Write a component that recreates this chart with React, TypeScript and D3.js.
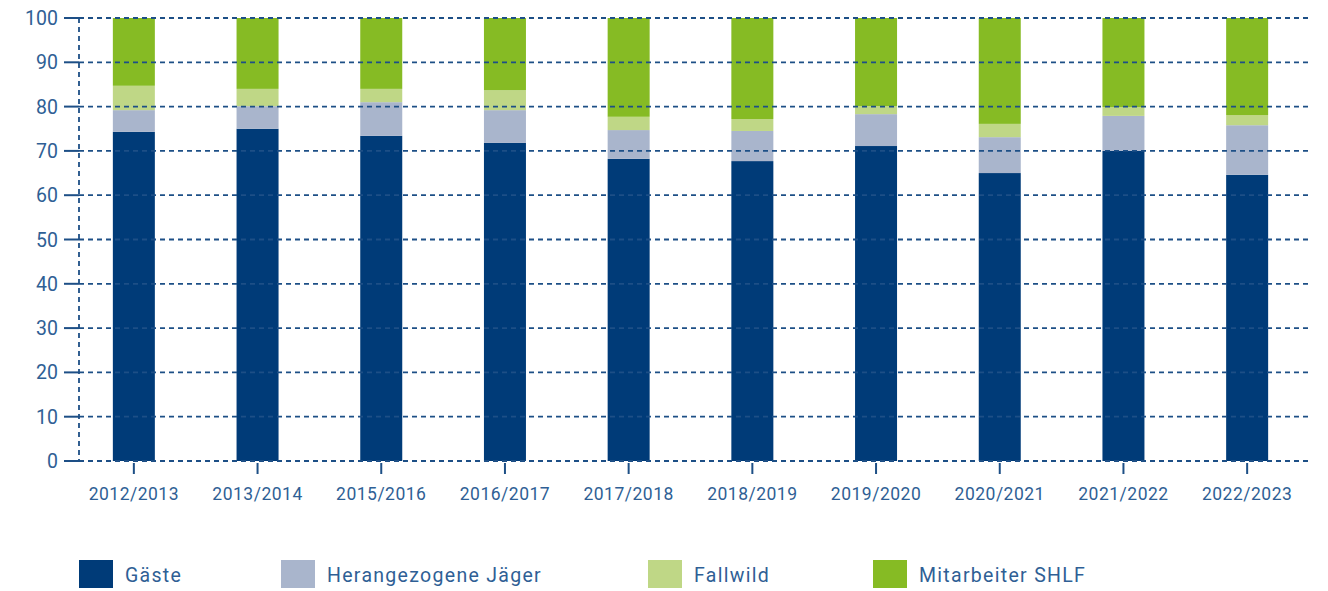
import React from "react";
import * as d3 from "d3";

const seasons = ["2012/2013","2013/2014","2015/2016","2016/2017","2017/2018","2018/2019","2019/2020","2020/2021","2021/2022","2022/2023"];
const gaeste = [74.3, 75.0, 73.4, 71.8, 68.2, 67.7, 71.1, 65.0, 70.0, 64.6];
const jaeger = [4.9, 5.1, 7.6, 7.4, 6.5, 6.8, 7.2, 8.1, 7.9, 11.2];
const fallwild = [5.5, 3.9, 3.0, 4.5, 3.0, 2.7, 1.8, 3.0, 2.0, 2.3];
const mitarbeiter = seasons.map((_, i) => +(100 - gaeste[i] - jaeger[i] - fallwild[i]).toFixed(1));
const yTicks = [0, 10, 20, 30, 40, 50, 60, 70, 80, 90, 100];
const seriesNames = ["Gäste", "Herangezogene Jäger", "Fallwild", "Mitarbeiter SHLF"];
const seriesColors = ["#003b78", "#a9b5cc", "#bfd786", "#86bb24"];

const W = 1328, H = 591;
const axisX = 79, gridRight = 1311, yTop = 18, yBottom = 461;
const textColor = "#2f5f95";
const gridColor = "#1d4f86";
const font = "Roboto, 'DejaVu Sans', sans-serif";

export default function App() {
  const y = d3.scaleLinear().domain([0, 100]).range([yBottom, yTop]);
  const x = d3.scaleBand().domain(seasons).range([72, 1309]).paddingInner(0.66).paddingOuter(0.33);
  const table = seasons.map((s, i) => ({ season: s, g: gaeste[i], j: jaeger[i], f: fallwild[i], m: mitarbeiter[i] }));
  const stack = d3.stack<any>().keys(["g", "j", "f", "m"])(table);
  const bw = 42;
  const legendX = [79, 281, 648, 873];

  return (
    <svg width={W} height={H} style={{ position: "absolute", left: 0, top: 0, background: "#fff" }} fontFamily={font}>
      {stack.map((layer, li) => (
        <g key={li} fill={seriesColors[li]}>
          {layer.map((d, i) => {
            const cx = (x(seasons[i]) as number) + x.bandwidth() / 2;
            return <rect key={i} x={cx - bw / 2} y={y(d[1])} width={bw} height={y(d[0]) - y(d[1])} />;
          })}
        </g>
      ))}
      {yTicks.map((t) => (
        <g key={t}>
          <line x1={axisX} x2={gridRight} y1={y(t)} y2={y(t)} stroke={gridColor} strokeWidth={1.8} strokeDasharray="5,4" />
          <line x1={64} x2={axisX} y1={y(t)} y2={y(t)} stroke={gridColor} strokeWidth={2} />
          <text x={58} y={y(t) + 7} textAnchor="end" fontSize={19.5} fill={textColor}>{t}</text>
        </g>
      ))}
      <line x1={axisX} x2={axisX} y1={yTop} y2={yBottom} stroke={gridColor} strokeWidth={1.8} strokeDasharray="5,4" />
      {seasons.map((s) => {
        const cx = (x(s) as number) + x.bandwidth() / 2;
        return (
          <g key={s}>
            <line x1={cx} x2={cx} y1={yBottom + 2} y2={yBottom + 13} stroke={gridColor} strokeWidth={2} />
            <text x={cx} y={500} textAnchor="middle" fontSize={17.5} letterSpacing={0.5} fill={textColor}>{s}</text>
          </g>
        );
      })}
      {seriesNames.map((n, i) => (
        <g key={n}>
          <rect x={legendX[i]} y={560} width={34} height={28} fill={seriesColors[i]} />
          <text x={legendX[i] + 46} y={582} fontSize={19.5} letterSpacing={1.3} fill={textColor}>{n}</text>
        </g>
      ))}
    </svg>
  );
}
